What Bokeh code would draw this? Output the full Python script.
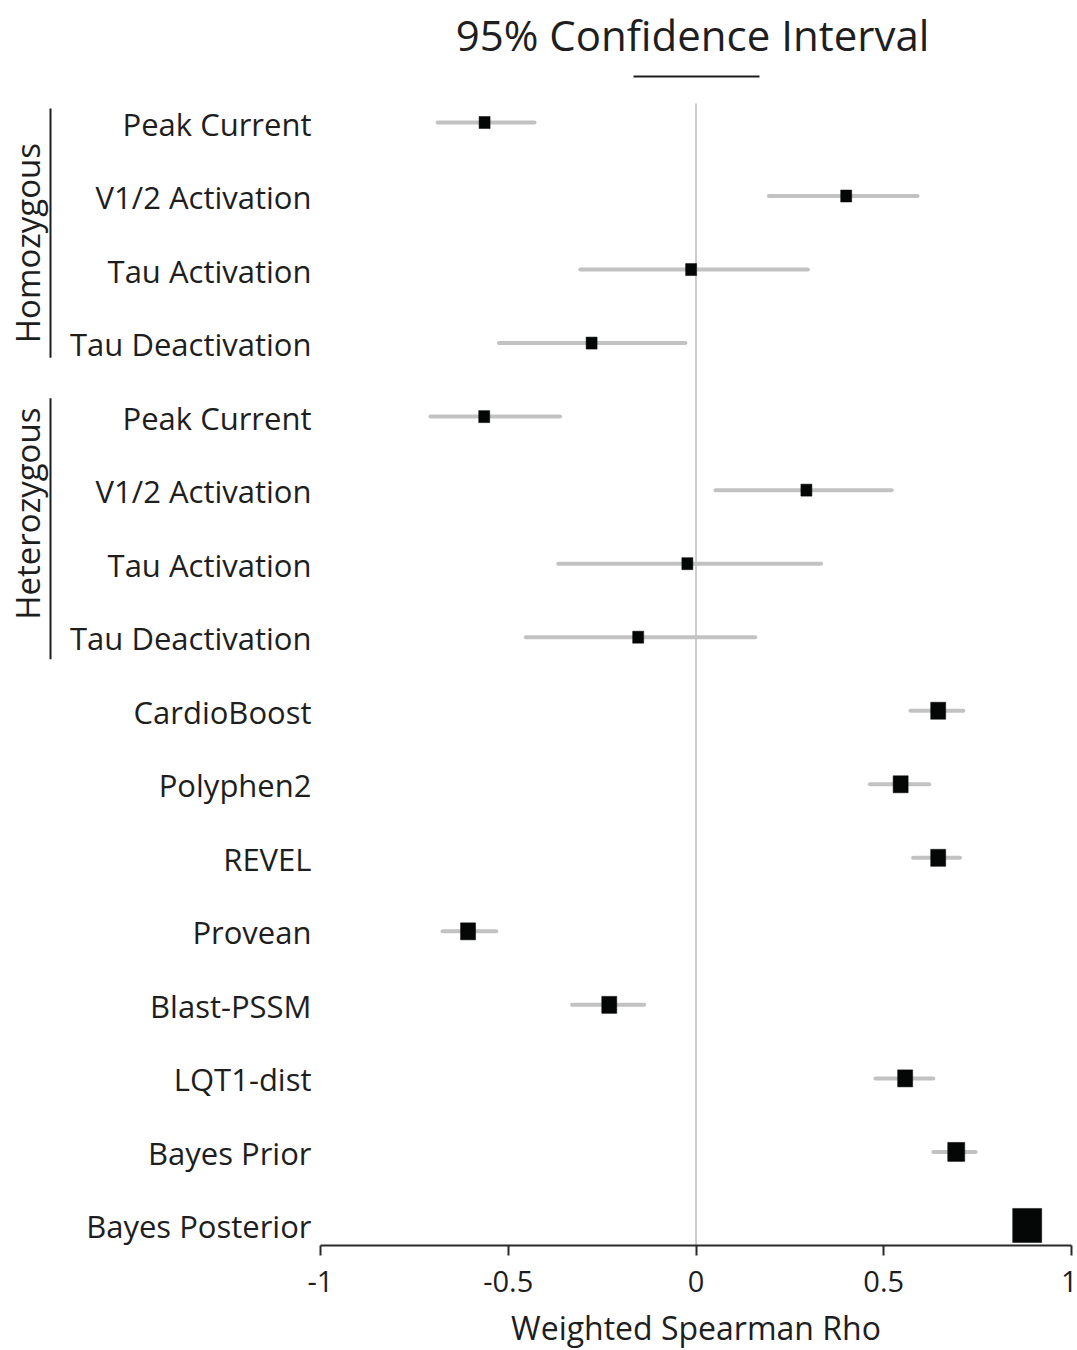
from bokeh.plotting import figure
from bokeh.models import Range1d, FixedTicker, ColumnDataSource
from bokeh.core.properties import value
from bokeh.embed import file_html
from bokeh.resources import INLINE

# ---------------- data ----------------
labels = ["Peak Current", "V1/2 Activation", "Tau Activation", "Tau Deactivation",
          "Peak Current", "V1/2 Activation", "Tau Activation", "Tau Deactivation",
          "CardioBoost", "Polyphen2", "REVEL", "Provean", "Blast-PSSM",
          "LQT1-dist", "Bayes Prior", "Bayes Posterior"]
rho = [-0.563, 0.400, -0.013, -0.278, -0.564, 0.294, -0.023, -0.154,
       0.645, 0.545, 0.645, -0.607, -0.231, 0.557, 0.693, 0.882]
ci_low = [-0.688, 0.194, -0.308, -0.525, -0.707, 0.052, -0.367, -0.453,
          0.571, 0.463, 0.578, -0.675, -0.330, 0.478, 0.632, 0.860]
ci_high = [-0.430, 0.590, 0.298, -0.028, -0.362, 0.521, 0.333, 0.158,
           0.712, 0.621, 0.703, -0.532, -0.138, 0.632, 0.745, 0.905]
groups = ["Homozygous", "Heterozygous"]
x_ticks = [-1, -0.5, 0, 0.5, 1]
x_tick_labels = ["-1", "-0.5", "0", "0.5", "1"]
title_text = "95% Confidence Interval"
x_label = "Weighted Spearman Rho"

# marker sizes in screen px (width, height)
marker_w = [11] * 8 + [15] * 6 + [17, 29]
marker_h = [12] * 8 + [17] * 6 + [19, 34]

# ---------------- layout constants (positions / styles) ----------------
W, H = 1077, 1350
PX_X = 375.5          # px per unit rho
ROW_PX = 73.53        # px per row
LEFT_PX = 320         # px from figure left to rho=-1
TOP_ROW_PX = 122      # px from figure top to row 0
AXIS_PX = 1245        # px from figure top to the x axis line
FONT = "Open Sans"
INK = "#1e1e1e"

# bracket extents and label centres, in row units
bracket_y0 = [-0.19, 3.75]
bracket_y1 = [3.20, 7.30]
group_label_y = [1.64, 5.32]

x_start = -1 - LEFT_PX / PX_X
x_end = x_start + W / PX_X
y_top = -TOP_ROW_PX / ROW_PX
y_bottom = y_top + H / ROW_PX

def px_y(py):
    return y_top + py / ROW_PX

def px_x(px):
    return x_start + px / PX_X

rows = list(range(len(labels)))

p = figure(width=W, height=H, output_backend="svg", toolbar_location=None,
           x_range=Range1d(x_start, x_end), y_range=Range1d(y_bottom, y_top),
           min_border=0)
p.outline_line_color = None
p.grid.visible = False
p.yaxis.visible = False
p.background_fill_color = "white"
p.border_fill_color = "white"

# x axis (drawn inside the frame at a fixed location)
xa = p.xaxis[0]
xa.fixed_location = px_y(AXIS_PX)
xa.bounds = (-1, 1)
xa.ticker = FixedTicker(ticks=x_ticks)
xa.major_label_overrides = {t: l for t, l in zip(x_ticks, x_tick_labels)}
xa.axis_line_width = 2
xa.axis_line_color = "#2a2a2a"
xa.major_tick_line_width = 2
xa.major_tick_line_color = "#2a2a2a"
xa.major_tick_in = 0
xa.major_tick_out = 10
xa.minor_tick_line_color = None
xa.major_label_text_font = FONT
xa.major_label_text_font_size = "29px"
xa.major_label_text_color = INK
xa.major_label_standoff = 15

# axis title, centred under rho = 0
p.text(x=[0], y=[px_y(1327)], text=[x_label], text_align="center",
       text_baseline="middle", text_font=value(FONT), text_font_size="32px",
       text_color=INK)

# zero reference line
p.segment(x0=[0], y0=[px_y(103)], x1=[0], y1=[px_y(AXIS_PX)],
          line_color="#cdcdcd", line_width=2)

src = ColumnDataSource(dict(y=rows, rho=rho, lo=ci_low, hi=ci_high,
                            w=marker_w, h=marker_h, label=labels))

# CI lines
p.segment(x0="lo", y0="y", x1="hi", y1="y", source=src,
          line_color="#c2c2c2", line_width=4, line_cap="round")
# point estimates
p.rect(x="rho", y="y", width="w", height="h", width_units="screen",
       height_units="screen", source=src, fill_color="#050707",
       line_color="#050707", line_width=0.5)

# row labels
p.text(x=-1, y="y", text="label", source=src, x_offset=-9, y_offset=1,
       text_align="right", text_baseline="middle",
       text_font=value(FONT), text_font_size="31px", text_color=INK)

# group brackets and labels
bx = px_x(50)
p.segment(x0=[bx] * 2, y0=bracket_y0, x1=[bx] * 2, y1=bracket_y1,
          line_color=INK, line_width=2)
p.text(x=[px_x(27)] * 2, y=group_label_y, text=groups, angle=1.5707963,
       text_align="center", text_baseline="middle",
       text_font=value(FONT), text_font_size="33px", text_color=INK)

# title and its rule
p.text(x=[px_x(692)], y=[px_y(34)], text=[title_text],
       text_align="center", text_baseline="middle",
       text_font=value(FONT), text_font_size="42px", text_color=INK)
p.segment(x0=[px_x(633)], y0=[px_y(76)], x1=[px_x(759)], y1=[px_y(76)],
          line_color=INK, line_width=2)

open("out.html", "w").write(file_html(p, INLINE))
